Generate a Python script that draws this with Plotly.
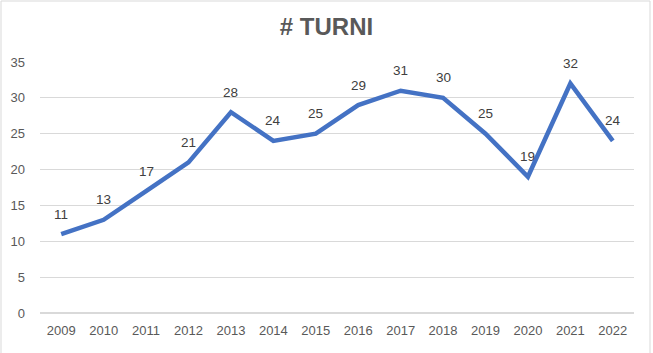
import plotly.graph_objects as go

years = ["2009", "2010", "2011", "2012", "2013", "2014", "2015",
         "2016", "2017", "2018", "2019", "2020", "2021", "2022"]
turni = [11, 13, 17, 21, 28, 24, 25, 29, 31, 30, 25, 19, 32, 24]
y_ticks = [0, 5, 10, 15, 20, 25, 30, 35]

FONT = "Liberation Sans"
LINE_COLOR = "#4472C4"

fig = go.Figure()
fig.add_trace(go.Scatter(
    x=years, y=turni, mode="lines",
    line=dict(color=LINE_COLOR, width=4.5),
    hoverinfo="x+y",
))

# On a category axis, annotation x is the category index
for i, y in enumerate(turni):
    fig.add_annotation(
        x=i, y=y, text=str(y), showarrow=False, yshift=20,
        font=dict(family=FONT, size=13.5, color="#404040"),
    )

fig.update_layout(
    width=653, height=353,
    margin=dict(l=40, r=19, t=62, b=40),
    paper_bgcolor="white", plot_bgcolor="white",
    showlegend=False,
    title=dict(
        text="<b># TURNI</b>", x=0.5, xanchor="center", xref="container",
        y=1 - 27 / 353, yanchor="middle", yref="container",
        font=dict(family="Liberation Sans Narrow, Liberation Sans", size=24,
                  color="#595959"),
    ),
    xaxis=dict(
        type="category", range=[-0.5, len(years) - 0.5],
        showgrid=False, zeroline=False,
        showline=False, ticks="",
        tickfont=dict(family=FONT, size=13, color="#595959"),
        ticklabelstandoff=8,
    ),
    yaxis=dict(
        range=[0, 35], tickvals=y_ticks, showgrid=True,
        gridcolor="#D9D9D9", gridwidth=1,
        zeroline=True, zerolinecolor="#D9D9D9", zerolinewidth=1.5,
        showline=False, ticks="",
        tickfont=dict(family=FONT, size=13, color="#595959"),
        ticklabelstandoff=14,
    ),
    shapes=[dict(
        type="rect", xref="paper", yref="paper",
        x0=-39 / 594, x1=1 + 16 / 594, y0=-0.2, y1=1 + 61 / 251,
        line=dict(color="#D9D9D9", width=1), layer="below",
    )],
)

fig.write_html("out.html")
